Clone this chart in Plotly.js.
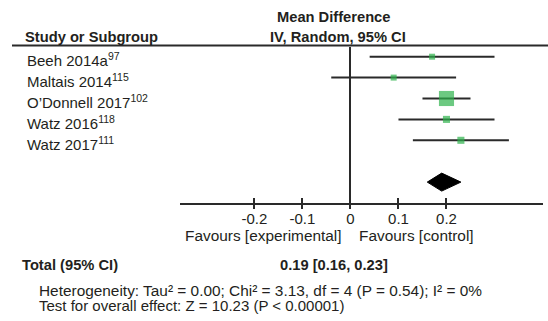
<!DOCTYPE html>
<html>
<head>
<meta charset="utf-8">
<script src="https://cdn.plot.ly/plotly-3.0.1.min.js"></script>
<style>html,body{margin:0;padding:0;background:#fff;}#chart{width:548px;height:321px;}</style>
</head>
<body>
<div id="chart"></div>
<script>
// ---- data ----
const studies = ['Beeh 2014a', 'Maltais 2014', 'O\u2019Donnell 2017', 'Watz 2016', 'Watz 2017'];
const refs = ['97', '115', '102', '118', '111'];
const meanDiff = [0.17, 0.09, 0.20, 0.20, 0.23];
const ciLow = [0.04, -0.04, 0.15, 0.10, 0.13];
const ciHigh = [0.30, 0.22, 0.25, 0.30, 0.33];
const weights = [9.0, 9.0, 57.0, 12.5, 12.5];
const pooled = {md: 0.19, lo: 0.16, hi: 0.23};
const tickVals = [-0.2, -0.1, 0, 0.1, 0.2];
const tickText = ['-0.2', '-0.1', '0', '0.1', '0.2'];
const totalLabel = '0.19 [0.16, 0.23]';
const heterogeneity = 'Heterogeneity: Tau\u00b2 = 0.00; Chi\u00b2 = 3.13, df = 4 (P = 0.54); I\u00b2 = 0%';
const overallTest = 'Test for overall effect: Z = 10.23 (P < 0.00001)';

// ---- layout helpers ----
const W = 548, H = 321;
const FONT = 'Liberation Sans, Arial, Helvetica, sans-serif';
const INK = '#231f20';
const LINE = '#2a2a2a';
const px = x => x / W;
const py = y => 1 - y / H;
const rows = studies.map((_, i) => i + 1);
const pooledRow = 7;

const traces = [
  {
    type: 'scatter', mode: 'markers', x: meanDiff, y: rows,
    marker: {symbol: 'square', color: '#2db24b', size: weights.map(w => 2 * Math.sqrt(w)), line: {width: 0}},
    error_x: {type: 'data', symmetric: false,
      array: meanDiff.map((m, i) => ciHigh[i] - m),
      arrayminus: meanDiff.map((m, i) => m - ciLow[i]),
      color: LINE, thickness: 2, width: 0},
    hoverinfo: 'skip', showlegend: false
  },
  {
    type: 'scatter', mode: 'lines',
    x: [pooled.lo, pooled.md, pooled.hi, pooled.md, pooled.lo],
    y: [pooledRow, pooledRow - 0.43, pooledRow, pooledRow + 0.43, pooledRow],
    fill: 'toself', fillcolor: '#000', line: {color: '#000', width: 1},
    hoverinfo: 'skip', showlegend: false
  },
  {
    type: 'scatter', mode: 'markers', x: tickVals, y: tickVals.map(() => 8), xaxis: 'x2',
    marker: {opacity: 0}, hoverinfo: 'skip', showlegend: false
  },
  {
    type: 'scatter', mode: 'markers', x: tickVals, y: tickVals.map(() => 8), xaxis: 'x3',
    marker: {opacity: 0}, hoverinfo: 'skip', showlegend: false
  }
];

const textFont = (size, bold) => ({family: FONT, size: size, color: INK, weight: bold ? 'bold' : 'normal'});

const annotations = [];
studies.forEach((s, i) => {
  annotations.push({xref: 'paper', yref: 'y', x: px(25), y: rows[i], yshift: -3, xanchor: 'left', yanchor: 'middle',
    text: s + '<sup>' + refs[i] + '</sup>', showarrow: false, font: textFont(15, false)});
});
annotations.push(
  {xref: 'paper', yref: 'paper', x: px(23), y: py(37), xanchor: 'left', yanchor: 'middle', text: '<b>Study or Subgroup</b>', showarrow: false, font: textFont(14.7, true)},
  {xref: 'paper', yref: 'paper', x: px(333.5), y: py(17), xanchor: 'center', yanchor: 'middle', text: '<b>Mean Difference</b>', showarrow: false, font: textFont(14.7, true)},
  {xref: 'paper', yref: 'paper', x: px(337.5), y: py(37), xanchor: 'center', yanchor: 'middle', text: '<b>IV, Random, 95% CI</b>', showarrow: false, font: textFont(14.7, true)},
  {xref: 'paper', yref: 'paper', x: px(343.5), y: py(235), xanchor: 'right', yanchor: 'middle', text: 'Favours [experimental]', showarrow: false, font: textFont(15.4, false)},
  {xref: 'paper', yref: 'paper', x: px(357), y: py(235), xanchor: 'left', yanchor: 'middle', text: 'Favours [control]', showarrow: false, font: textFont(15.4, false)},
  {xref: 'paper', yref: 'paper', x: px(20), y: py(265), xanchor: 'left', yanchor: 'middle', text: '<b>Total (95% CI)</b>', showarrow: false, font: textFont(14.7, true)},
  {xref: 'paper', yref: 'paper', x: px(278), y: py(265), xanchor: 'left', yanchor: 'middle', text: '<b>' + totalLabel + '</b>', showarrow: false, font: textFont(14.7, true)},
  {xref: 'paper', yref: 'paper', x: px(36.5), y: py(290), xanchor: 'left', yanchor: 'middle', text: heterogeneity, showarrow: false, font: textFont(15.4, false)},
  {xref: 'paper', yref: 'paper', x: px(36.5), y: py(305), xanchor: 'left', yanchor: 'middle', text: overallTest, showarrow: false, font: textFont(15, false)}
);

const xRange = [-0.355, 0.401];
const xDomain = [px(180), px(543)];
const layout = {
  width: W, height: H,
  margin: {l: 0, r: 0, t: 0, b: 0, pad: 0},
  paper_bgcolor: '#fff', plot_bgcolor: '#fff',
  showlegend: false,
  xaxis: {
    domain: xDomain, range: xRange, autorange: false, anchor: 'y',
    showline: true, linecolor: LINE, linewidth: 2,
    ticks: 'outside', ticklen: 1, tickwidth: 0, tickcolor: 'rgba(0,0,0,0)',
    tickvals: tickVals, ticktext: tickText,
    tickfont: {family: FONT, size: 15, color: INK},
    zeroline: true, zerolinecolor: LINE, zerolinewidth: 2,
    showgrid: false, fixedrange: true
  },
  xaxis2: {
    overlaying: 'x', domain: xDomain, range: xRange, autorange: false, anchor: 'y',
    showline: false, ticks: 'inside', ticklen: 5, tickwidth: 2, tickcolor: LINE,
    tickvals: tickVals, showticklabels: false, zeroline: false, showgrid: false, side: 'bottom'
  },
  xaxis3: {
    overlaying: 'x', domain: xDomain, range: xRange, autorange: false, anchor: 'y',
    showline: false, ticks: 'outside', ticklen: 5, tickwidth: 2, tickcolor: LINE,
    tickvals: tickVals, showticklabels: false, zeroline: false, showgrid: false, side: 'bottom'
  },
  yaxis: {
    domain: [1 - 203 / H, 1 - 47 / H], range: [8, 0.536], autorange: false,
    visible: false, showgrid: false, zeroline: false
  },
  shapes: [
    {type: 'line', xref: 'paper', yref: 'paper', x0: px(12), x1: 1, y0: py(45.5), y1: py(45.5), line: {color: LINE, width: 2}}
  ],
  annotations: annotations
};

Plotly.newPlot('chart', traces, layout, {staticPlot: true, displayModeBar: false});
</script>
</body>
</html>
